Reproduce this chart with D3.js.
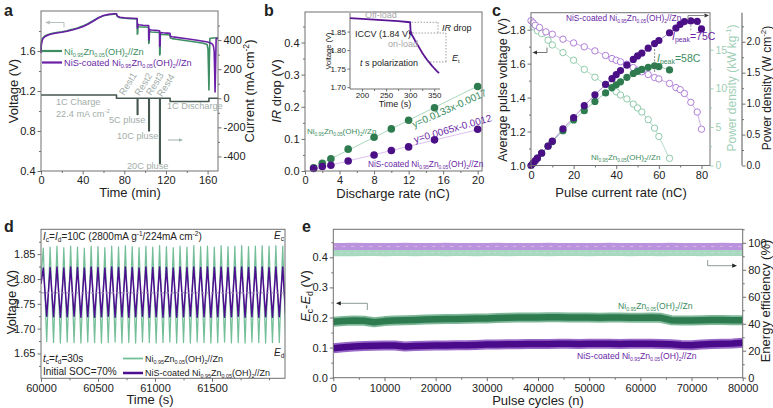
<!DOCTYPE html>
<html><head><meta charset="utf-8">
<script src="https://cdn.jsdelivr.net/npm/d3@7"></script>
<style>body{margin:0;background:#fff}svg{display:block}text{font-family:"Liberation Sans",Arial,Helvetica,sans-serif}</style>
</head><body><svg id="c" width="773" height="408"></svg>
<script>
// ---------------- DATA ----------------
// Panel a: voltage profiles [time (min), V] and current [time, mA cm^-2]
const aGreen = [[0,1.6],[0.3,1.68],[1,1.715],[2,1.735],[4,1.752],[7,1.765],[10,1.775],[15,1.785],[20,1.793],[25,1.803],[30,1.816],[35,1.831],[40,1.849],[45,1.874],[50,1.903],[55,1.933],[60,1.953],[65,1.963],[70,1.968],[72.5,1.969],[73,1.95],[74,1.94],[76,1.933],[80,1.928],[86,1.924],[92.4,1.921],[92.5,1.768],[92.9,1.775],[93.1,1.848],[94,1.843],[98,1.84],[103.4,1.837],[103.5,1.675],[103.9,1.685],[104.1,1.795],[106,1.79],[110,1.787],[113.9,1.785],[114,1.56],[114.4,1.575],[114.6,1.768],[117,1.765],[121,1.762],[123.9,1.76],[124.2,1.73],[126,1.724],[130,1.717],[140,1.703],[150,1.688],[156,1.677],[159.5,1.665],[160.4,1.62],[160.9,1.4],[161.3,1.21],[161.7,1.5],[162.2,1.725],[165,1.73],[170,1.732]];
const aPurple = [[0,1.58],[0.3,1.66],[1,1.70],[2,1.725],[4,1.745],[7,1.76],[10,1.77],[15,1.78],[20,1.787],[25,1.797],[30,1.81],[35,1.825],[40,1.843],[45,1.868],[50,1.898],[55,1.93],[60,1.955],[65,1.966],[70,1.972],[72.5,1.973],[73,1.955],[74,1.945],[76,1.937],[80,1.932],[86,1.928],[92.4,1.925],[92.5,1.83],[92.9,1.835],[93.1,1.868],[94,1.862],[98,1.858],[103.4,1.855],[103.5,1.71],[103.9,1.72],[104.1,1.815],[106,1.81],[110,1.806],[113.9,1.803],[114,1.645],[114.4,1.655],[114.6,1.785],[117,1.782],[121,1.779],[123.9,1.777],[124.2,1.748],[126,1.742],[130,1.736],[140,1.722],[150,1.707],[160,1.69],[164,1.675],[165.5,1.655],[166.3,1.6],[166.8,1.4],[167.2,1.19],[167.7,1.45],[168.2,1.72],[170,1.73]];
const aCurrent = [[0,22.4],[72.5,22.4],[72.5,0],[92.5,0],[92.5,-112],[93,-112],[93,0],[103.5,0],[103.5,-224],[104,-224],[104,0],[114,0],[114,-448],[114.5,-448],[114.5,0],[124,0],[124,-22.4],[161.3,-22.4],[161.3,0],[170,0]];
const aTimeTicks = [0,40,80,120,160];
const aVoltTicks = [0.4,0.8,1.2,1.6];
const aCurTicks = [-400,-200,0,200,400];

// Panel b: IR drop vs discharge rate
const bRates = [1,2,3,5,8,10,12,15,20];
const bGreen = [0.010,0.024,0.038,0.068,0.105,0.131,0.158,0.197,0.263];
const bPurple = [0.008,0.014,0.018,0.031,0.050,0.064,0.075,0.097,0.130];
const bGreenFit = [0.0133,-0.0017];
const bPurpleFit = [0.0065,-0.0012];
const bXTicks = [0,4,8,12,16,20];
const bYTicks = [0,0.1,0.2,0.3,0.4];
// inset: [time s, V]
const bInset = [[175,1.886],[200,1.884],[225,1.882],[250,1.880],[275,1.878],[300,1.875],[300.5,1.86],[301,1.846],[305,1.838],[310,1.826],[315,1.815],[320,1.804],[325,1.793],[330,1.783],[335,1.774],[340,1.766],[345,1.758],[350,1.751],[355,1.744],[360,1.738]];
const bInsetXTicks = [200,250,300,350];
const bInsetYTicks = [1.70,1.75,1.80,1.85];

// Panel c: pulse rate tests
const cRatePurpleV = [0,1,2,4,7,10,15,20,25,30,35,38,40,42,45,48,50,52,55,58,60,65,68,70,72,75,78,80];
const cPurpleV = [1.853,1.84,1.826,1.813,1.787,1.773,1.744,1.722,1.699,1.675,1.648,1.63,1.62,1.611,1.597,1.577,1.561,1.552,1.536,1.518,1.51,1.483,1.459,1.447,1.424,1.372,1.315,1.214];
const cRateGreenV = [1,3,5,8,10,15,20,25,30,35,38,40,42,45,48,50,52,55,58,60,65];
const cGreenV = [1.817,1.793,1.777,1.738,1.71,1.665,1.62,1.566,1.52,1.477,1.455,1.434,1.415,1.392,1.362,1.339,1.315,1.27,1.22,1.171,1.042];
const cRatePurpleP = [0,1,2,3,5,8,10,15,20,25,30,35,38,40,42,45,48,50,52,55,58,60,65,68,70,72,75,78,80];
const cPurpleP = [0,0.3,0.62,0.95,1.6,2.5,3.15,4.75,6.2,7.75,9.16,10.5,11.25,11.78,12.3,13.0,13.75,14.2,14.55,15.2,15.8,16.2,17.2,17.8,18.3,18.65,18.74,18.68,17.7];
const cRateGreenP = [1,3,5,8,10,15,20,25,30,35,38,40,42,45,48,50,52,55,58,60,65];
const cGreenP = [0.3,0.95,1.6,2.5,3.1,4.5,5.9,7.1,8.3,9.4,10.1,10.46,10.84,11.42,11.92,12.2,12.45,12.72,12.92,12.82,12.38];
const cXTicks = [0,20,40,60,80];
const cVTicks = [1.0,1.2,1.4,1.6,1.8];
const cKWTicks = [0,5,10,15];
const cWTicks = [0,0.5,1.0,1.5,2.0];

// Panel d: pulse cycling voltage (turning points)
const dTimes = [60000,60020,60050,60080,60110,60140,60170,60200,60230,60260,60290,60320,60350,60380,60410,60440,60470,60500,60530,60560,60590,60620,60650,60680,60710,60740,60770,60800,60830,60860,60890,60920,60950,60980,61010,61040,61070,61100,61130,61160,61190,61220,61250,61280,61310,61340,61370,61400,61430,61460,61490,61520,61550,61580,61610,61640,61670,61700,61730,61760,61790,61820,61850,61880,61910,61940,61970,62000,62030,62060,62090,62120,62145];
const dGreenPeaks = [1.862,1.864,1.866,1.863,1.866,1.864,1.862,1.866,1.865,1.863,1.866,1.864,1.867,1.865,1.863,1.866,1.864,1.867,1.865,1.863,1.866,1.864,1.867,1.865,1.866,1.864,1.867,1.865,1.866,1.867,1.865,1.866,1.867,1.866,1.867,1.866];
const dGreenTroughs = [1.674,1.672,1.671,1.673,1.672,1.671,1.673,1.672,1.671,1.672,1.673,1.671,1.672,1.671,1.673,1.672,1.671,1.672,1.673,1.671,1.672,1.671,1.673,1.672,1.671,1.672,1.673,1.671,1.672,1.671,1.673,1.672,1.671,1.672,1.672];
const dPurplePeaks = [1.822,1.823,1.824,1.822,1.824,1.823,1.822,1.824,1.823,1.822,1.824,1.823,1.824,1.823,1.822,1.824,1.823,1.824,1.823,1.822,1.824,1.823,1.824,1.823,1.824,1.823,1.824,1.823,1.824,1.824,1.823,1.824,1.824,1.823,1.824,1.824];
const dPurpleTroughs = [1.725,1.724,1.723,1.724,1.725,1.723,1.724,1.723,1.724,1.725,1.723,1.724,1.723,1.724,1.725,1.723,1.724,1.723,1.724,1.723,1.724,1.725,1.723,1.724,1.723,1.724,1.723,1.724,1.725,1.723,1.724,1.723,1.724,1.723,1.724];
const dStartEnd = {green:[1.80,1.69], purple:[1.79,1.73]};
const dRef = 1.772;
const dXTicks = [60000,60500,61000,61500];
const dYTicks = [1.65,1.70,1.75,1.80,1.85];

// Panel e: long-term pulse cycling
const eCycles = [0,2000,4000,6000,8000,10000,12000,14000,16000,18000,20000,22000,24000,26000,28000,30000,32000,34000,36000,38000,40000,42000,44000,46000,48000,50000,52000,54000,56000,58000,60000,62000,64000,66000,68000,70000,72000,74000,76000,78000,80000];
const eGreenDE = [0.186,0.188,0.190,0.189,0.184,0.188,0.190,0.191,0.192,0.193,0.194,0.195,0.195,0.196,0.197,0.197,0.198,0.199,0.200,0.200,0.200,0.201,0.201,0.200,0.200,0.200,0.199,0.200,0.200,0.199,0.199,0.200,0.199,0.191,0.190,0.190,0.191,0.192,0.192,0.191,0.191];
const ePurpleDE = [0.098,0.101,0.104,0.105,0.106,0.107,0.107,0.104,0.105,0.106,0.107,0.107,0.108,0.108,0.109,0.110,0.110,0.111,0.111,0.112,0.112,0.112,0.113,0.113,0.112,0.113,0.113,0.113,0.112,0.113,0.113,0.113,0.112,0.111,0.109,0.108,0.110,0.112,0.113,0.114,0.116];
const eGreenEE = [92.4,92.6,92.5,92.7,92.6,92.5,92.7,92.6,92.5,92.6,92.7,92.5,92.6,92.6,92.5,92.7,92.6,92.5,92.6,92.7,92.6,92.5,92.6,92.7,92.6,92.5,92.6,92.6,92.7,92.5,92.6,92.6,92.5,92.7,92.6,92.6,92.5,92.6,92.7,92.6,92.6];
const ePurpleEE = [97.3,97.2,97.4,97.2,97.3,97.3,97.2,97.4,97.3,97.2,97.3,97.4,97.2,97.3,97.3,97.2,97.4,97.3,97.3,97.2,97.3,97.4,97.2,97.3,97.3,97.2,97.3,97.4,97.3,97.2,97.3,97.3,97.2,97.4,97.3,97.2,97.3,97.3,97.4,97.2,97.3];
const eXTicks = [0,10000,20000,30000,40000,50000,60000,70000,80000];
const eYTicks = [0,0.1,0.2,0.3,0.4];
const eEETicks = [0,20,40,60,80,100];

// ---------------- HELPERS ----------------
const svg = d3.select('#c');
svg.append('rect').attr('width',773).attr('height',408).attr('fill','#fff');
const FONT = '"Liberation Sans", Arial, Helvetica, sans-serif';
const AX = '#707070';
const COL = {
  gA:'#3e8e63', pA:'#6a1fa6', cur:'#46574f', ann:'#a3aeaa',
  gDark:'#2f7b50', pDark:'#4b0f86', gTxt:'#3c8d60', pTxt:'#6a1fa6', gLine:'#74bf99'
};

function rich(x,y,parts,o={}){
  const fs=o.fs||11;
  const sc=o.sub||0.66;
  const t=svg.append('text').attr('x',x).attr('y',y).attr('font-size',fs)
    .attr('fill',o.fill||'#222').attr('text-anchor',o.anchor||'start').attr('font-family',FONT);
  if(o.weight) t.attr('font-weight',o.weight);
  if(o.rotate!==undefined) t.attr('transform',`rotate(${o.rotate},${x},${y})`);
  let shift=0;
  parts.forEach(p=>{
    const [s,st]=typeof p==='string'?[p,'']:p;
    const ts=t.append('tspan').text(s);
    let target=0;
    if(st.includes('sub')){target=fs*0.22;ts.attr('font-size',fs*sc);}
    if(st.includes('sup')){target=-fs*0.4;ts.attr('font-size',fs*0.66);}
    if(st.startsWith('i')) ts.attr('font-style','italic');
    if(target!==shift){ts.attr('dy',target-shift);shift=target;}
  });
  return t;
}
const formula = pre => [pre+'Ni',['0.95','sub'],'Zn',['0.05','sub'],'(OH)',['2','sub'],'//Zn'];

function drawAxis(orient,scale,pos,ticks,minor,o={}){
  const gen={left:d3.axisLeft,right:d3.axisRight,bottom:d3.axisBottom}[orient];
  const tr=(orient==='bottom')?`translate(0,${pos})`:`translate(${pos},0)`;
  const g=svg.append('g').attr('transform',tr).attr('font-family',FONT);
  g.call(gen(scale).tickValues(ticks).tickSize(o.size||3.5).tickPadding(o.pad||2).tickFormat(o.fmt||(d=>d)));
  g.select('.domain').remove();
  g.selectAll('line').attr('stroke',o.tickColor||AX);
  g.selectAll('text').attr('font-size',o.fs||11).attr('fill',o.color||'#222');
  if(minor&&minor.length){
    const m=svg.append('g').attr('transform',tr);
    m.call(gen(scale).tickValues(minor).tickSize(o.msize||2).tickFormat(''));
    m.select('.domain').remove();
    m.selectAll('line').attr('stroke',o.tickColor||AX);
  }
  return g;
}
function frame(x0,y0,x1,y1){
  svg.append('rect').attr('x',x0).attr('y',y0).attr('width',x1-x0).attr('height',y1-y0).attr('fill','none').attr('stroke',AX).attr('stroke-width',1);
}
function line(x1,y1,x2,y2,col,w,dash){
  const l=svg.append('line').attr('x1',x1).attr('y1',y1).attr('x2',x2).attr('y2',y2).attr('stroke',col).attr('stroke-width',w||1);
  if(dash) l.attr('stroke-dasharray',dash);
  return l;
}
function arrowHead(x,y,dir,col,s){
  s=s||4;
  const pts=dir==='left'?[[x,y],[x+s*1.6,y-s*0.7],[x+s*1.6,y+s*0.7]]:[[x,y],[x-s*1.6,y-s*0.7],[x-s*1.6,y+s*0.7]];
  svg.append('polygon').attr('points',pts.map(p=>p.join(',')).join(' ')).attr('fill',col);
}
function path(data,xs,ys,col,w,o={}){
  const p=svg.append('path').attr('d',d3.line().x(d=>xs(d[0])).y(d=>ys(d[1]))(data))
    .attr('fill','none').attr('stroke',col).attr('stroke-width',w).attr('stroke-linejoin','round').attr('stroke-linecap',o.cap||'butt');
  if(o.dash) p.attr('stroke-dasharray',o.dash);
  return p;
}
const f1=d3.format('.1f'), f2=d3.format('.2f');

// ---------------- PANEL A ----------------
{
  const xA=d3.scaleLinear([0,170],[41,218]);
  const yA=d3.scaleLinear([0.4,2.0],[171,11]);
  const iA=d3.scaleLinear([-500,600],[171,11]);
  path(aCurrent,xA,iA,COL.cur,1.6);
  path(aGreen,xA,yA,COL.gA,1.6);
  path(aPurple,xA,yA,COL.pA,1.6);
  frame(41,11,218,171);
  drawAxis('left',yA,41,aVoltTicks,[0.6,1.0,1.4,1.8],{fmt:f1});
  drawAxis('right',iA,218,aCurTicks,[-300,-100,100,300,500]);
  drawAxis('bottom',xA,171,aTimeTicks,[20,60,100,140]);
  rich(18,91,['Voltage (V)'],{fs:13,anchor:'middle',rotate:-90});
  rich(254,91,['Current (mA cm',['-2','sup'],')'],{fs:13,anchor:'middle',rotate:-90});
  rich(130,197,['Time (min)'],{fs:13,anchor:'middle'});
  rich(4,16,['a'],{fs:16,weight:'bold'});
  // legend
  line(42,51,62,51,COL.gA,2.2);
  rich(64,54.5,formula(''),{fs:9.2,fill:COL.gTxt,sub:0.6});
  line(42,62.5,62,62.5,COL.pA,2.2);
  rich(64,66,formula('NiS-coated '),{fs:9.2,fill:COL.pTxt,sub:0.6});
  // annotations
  const g=COL.ann;
  rich(56,105,['1C Charge'],{fs:9.2,fill:g});
  rich(56,117,['22.4 mA cm',['-2','sup']],{fs:9.2,fill:g});
  rich(109,123,['5C pluse'],{fs:9.2,fill:g});
  rich(117,139,['10C pluse'],{fs:9.2,fill:g});
  rich(127,168.5,['20C pluse'],{fs:9.2,fill:g});
  rich(167,109,['1C Discharge'],{fs:9.2,fill:g});
  [['Rest1',124,96],['Rest2',139.5,96.5],['Rest3',151,96],['Rest4',162,97.5]].forEach(r=>rich(r[1],r[2],[r[0]],{fs:9.5,fill:g,rotate:-58}));
  // arrows
  line(47,22.5,64,22.5,'#b9c1be',1); line(64,22.5,64,27.5,'#b9c1be',1); arrowHead(45,22.5,'left','#b9c1be',3);
  line(168,140,180,140,'#9fb4ab',1); arrowHead(183,140,'right','#9fb4ab',2.5);
}

// ---------------- PANEL B ----------------
{
  const xB=d3.scaleLinear([0,20.5],[305,482]);
  const yB=d3.scaleLinear([0,0.495],[171,12]);
  const fitG=[1,20.3].map(x=>[x,bGreenFit[0]*x+bGreenFit[1]]);
  const fitP=[1,20.3].map(x=>[x,bPurpleFit[0]*x+bPurpleFit[1]]);
  path(fitG,xB,yB,'#a9d9bf',1);
  path(fitP,xB,yB,'#dcc0ef',1);
  svg.append('g').selectAll('circle').data(bRates).join('circle')
    .attr('cx',(d)=>xB(d)).attr('cy',(d,i)=>yB(bGreen[i])).attr('r',3.8).attr('fill',COL.gDark);
  svg.append('g').selectAll('circle').data(bRates).join('circle')
    .attr('cx',(d)=>xB(d)).attr('cy',(d,i)=>yB(bPurple[i])).attr('r',3.8).attr('fill',COL.pDark);
  frame(305,12,482,171);
  drawAxis('left',yB,305,bYTicks,[0.05,0.15,0.25,0.35,0.45],{fmt:f1});
  drawAxis('bottom',xB,171,bXTicks,[2,6,10,14,18]);
  rich(281,91,[['IR','i'],' drop (V)'],{fs:13,anchor:'middle',rotate:-90});
  rich(393,198,['Discharge rate (nC)'],{fs:13,anchor:'middle'});
  rich(264,16,['b'],{fs:16,weight:'bold'});
  rich(307,134,formula(''),{fs:8,fill:COL.gTxt,sub:0.6});
  rich(368,167,formula('NiS-coated '),{fs:8.3,fill:COL.pTxt,sub:0.6});
  rich(414,128,['y=0.0133x-0.0017'],{fs:10,fill:COL.gTxt,rotate:-24});
  rich(415,143,['y=0.0065x-0.0012'],{fs:10,fill:COL.pTxt,rotate:-16});
  // inset
  const xi=d3.scaleLinear([175,362],[350,440]);
  const yi=d3.scaleLinear([1.695,1.9],[89,13]);
  line(350,13,350,89,AX,1); line(350,89,440,89,AX,1);
  drawAxis('left',yi,350,bInsetYTicks,[],{fmt:f2,fs:8,size:2.5,pad:1.5});
  drawAxis('bottom',xi,89,bInsetXTicks,[225,275,325],{fs:8,size:2.5,pad:1});
  path(bInset,xi,yi,'#5a1596',1.8);
  svg.append('circle').attr('cx',xi(301)).attr('cy',yi(1.846)).attr('r',1.8).attr('fill','#5a1596');
  rich(331,51,['Voltage (V)'],{fs:7.5,anchor:'middle',rotate:-90});
  rich(395,107,['Time (s)'],{fs:9,anchor:'middle'});
  rich(365,18,['Off-load'],{fs:9,fill:'#a8a8a8'});
  rich(355,37,['ICCV (1.84 V)'],{fs:9});
  rich(388,47,['on-load'],{fs:9,fill:'#a8a8a8'});
  rich(360,66,[['t','i'],' s polarization'],{fs:9});
  rich(442,31,[['IR','i'],' drop'],{fs:9});
  rich(452,61,[['E','i'],['t','sub']],{fs:9});
  const dc='#888';
  line(xi(303),yi(1.875),438,yi(1.875),dc,0.8,'1.5,1.5');
  line(438,yi(1.875),438,yi(1.846),dc,0.8,'1.5,1.5');
  line(xi(305),yi(1.846),446,yi(1.846),dc,0.8,'1.5,1.5');
  line(446,yi(1.846),446,yi(1.768),dc,0.8,'1.5,1.5');
  line(xi(335),yi(1.768),448,yi(1.768),dc,0.8,'1.5,1.5');
}

// ---------------- PANEL C ----------------
{
  const xC=d3.scaleLinear([0,84],[531,710]);
  const yV=d3.scaleLinear([1.0,1.9],[165.5,12.7]);
  const yP=d3.scaleLinear([0,19.8],[165.5,12.7]);
  const yW=d3.scaleLinear([0,2.47],[165.5,12.7]);
  const gV=cRateGreenV.map((x,i)=>[x,cGreenV[i]]);
  const pV=cRatePurpleV.map((x,i)=>[x,cPurpleV[i]]);
  const gP=cRateGreenP.map((x,i)=>[x,cGreenP[i]]);
  const pP=cRatePurpleP.map((x,i)=>[x,cPurpleP[i]]);
  path(gV,xC,yV,'#a8d8be',0.9);
  path(pV,xC,yV,'#c8a6e6',0.9);
  path(gP,xC,yP,'#8fc6a8',0.9);
  path(pP,xC,yP,'#a27ac8',0.9);
  svg.append('g').selectAll('circle').data(gV).join('circle').attr('cx',d=>xC(d[0])).attr('cy',d=>yV(d[1])).attr('r',3.2).attr('fill','#fff').attr('stroke','#8fcaa9').attr('stroke-width',1);
  svg.append('g').selectAll('circle').data(pV).join('circle').attr('cx',d=>xC(d[0])).attr('cy',d=>yV(d[1])).attr('r',3.2).attr('fill','#fff').attr('stroke','#b07fd9').attr('stroke-width',1);
  svg.append('g').selectAll('circle').data(gP).join('circle').attr('cx',d=>xC(d[0])).attr('cy',d=>yP(d[1])).attr('r',3.6).attr('fill',COL.gDark);
  svg.append('g').selectAll('circle').data(pP).join('circle').attr('cx',d=>xC(d[0])).attr('cy',d=>yP(d[1])).attr('r',3.6).attr('fill',COL.pDark);
  frame(531,12.7,710,165.5);
  drawAxis('left',yV,531,cVTicks,[1.1,1.3,1.5,1.7],{fmt:f1});
  drawAxis('bottom',xC,165.5,cXTicks,[10,30,50,70]);
  drawAxis('right',yP,710,cKWTicks,[2.5,7.5,12.5,17.5],{color:'#9fcfb6',tickColor:'#9fcfb6',fs:10.5});
  line(742,12.7,742,165.5,'#555',1);
  drawAxis('right',yW,742,cWTicks,[0.25,0.75,1.25,1.75,2.25],{fmt:f1,fs:10,pad:1});
  rich(507,90,['Average pulse voltage (V)'],{fs:12.5,anchor:'middle',rotate:-90});
  rich(736,88,['Power density (kW kg',['-1','sup'],')'],{fs:12,anchor:'middle',rotate:-90,fill:'#9fcfb6'});
  rich(771,88,['Power density (W cm',['-2','sup'],')'],{fs:12,anchor:'middle',rotate:-90});
  rich(621,197,['Pulse current rate (nC)'],{fs:13,anchor:'middle'});
  rich(492,16,['c'],{fs:16,weight:'bold'});
  rich(566,21,formula('NiS-coated '),{fs:8.3,fill:COL.pTxt,sub:0.6});
  rich(591,160,formula(''),{fs:8,fill:COL.gTxt,sub:0.6});
  rich(672,40,[['I','i'],['peak','sub'],'=75C'],{fs:10.5,fill:COL.pTxt});
  rich(657,62,[['I','i'],['peak','sub'],'=58C'],{fs:10.5,fill:COL.gTxt});
  line(xC(75),yP(18.74)+4,xC(75),31,'#888',0.8,'2,1.5');
  line(xC(58),49,xC(58),73,'#666',0.8,'2,1.5');
  // arrows
  line(536,52.5,547,52.5,'#777',1); line(547,52.5,547,47.5,'#777',1); arrowHead(532.5,52.5,'left','#333',2.8);
  line(688,20,688,15.5,'#888',1); line(688,15.5,704,15.5,'#888',1); arrowHead(709,15.5,'right','#333',2.8);
}

// ---------------- PANEL D ----------------
{
  const xD=d3.scaleLinear([60000,62140],[41,285]);
  const yD=d3.scaleLinear([1.6,1.9],[378.3,229.3]);
  function build(peaks,troughs,se){
    const v=[se[0]];
    for(let i=0;i<peaks.length;i++){v.push(peaks[i]); if(i<troughs.length) v.push(troughs[i]);}
    v.push(se[1]);
    return dTimes.slice(0,v.length).map((t,i)=>[t,v[i]]);
  }
  svg.append('defs').append('clipPath').attr('id','clipd').append('rect').attr('x',41).attr('y',229.3).attr('width',244).attr('height',149);
  const gd=build(dGreenPeaks,dGreenTroughs,dStartEnd.green);
  const pd=build(dPurplePeaks,dPurpleTroughs,dStartEnd.purple);
  path(gd,xD,yD,COL.gLine,1.25).attr('clip-path','url(#clipd)');
  path(pd,xD,yD,'#4d0e8f',1.5).attr('clip-path','url(#clipd)');
  line(41,yD(dRef),285,yD(dRef),'#9a8fb3',1,'3,2');
  frame(41,229.3,285,378.3);
  drawAxis('left',yD,41,dYTicks,[1.625,1.675,1.725,1.775,1.825,1.875],{fmt:f2});
  drawAxis('bottom',xD,378.3,dXTicks,[60250,60750,61250,61750,62000]);
  rich(16,302,['Voltage (V)'],{fs:13,anchor:'middle',rotate:-90});
  rich(150,404,['Time (s)'],{fs:13,anchor:'middle'});
  rich(4,232,['d'],{fs:16,weight:'bold'});
  rich(43,240,[['I','i'],['c','sub'],'=',['I','i'],['d','sub'],'=10C (2800mA g',['-1','sup'],'/224mA cm',['-2','sup'],')'],{fs:10});
  rich(43,362,[['t','i'],['c','sub'],'=',['t','i'],['d','sub'],'=30s'],{fs:10});
  rich(43,375,['Initial SOC=70%'],{fs:10});
  rich(274,239,[['E','i'],['c','sub']],{fs:10});
  rich(274,356,[['E','i'],['d','sub']],{fs:10});
  line(123,358.5,143,358.5,COL.gLine,1.8);
  rich(145,362,formula(''),{fs:9,sub:0.6});
  line(123,373,143,373,'#4d0e8f',2.5);
  rich(145,376,formula('NiS-coated '),{fs:9,sub:0.6});
}

// ---------------- PANEL E ----------------
{
  const xE=d3.scaleLinear([0,80000],[333.3,742.7]);
  const yE=d3.scaleLinear([0,0.493],[377.7,229.3]);
  const yEE=d3.scaleLinear([0,110],[377.7,229.3]);
  const gEE=eCycles.map((c,i)=>[c,eGreenEE[i]]);
  const pEE=eCycles.map((c,i)=>[c,ePurpleEE[i]]);
  const gDE=eCycles.map((c,i)=>[c,eGreenDE[i]]);
  const pDE=eCycles.map((c,i)=>[c,ePurpleDE[i]]);
  path(gEE,xE,yEE,'#a9d8c0',6.5);
  path(gEE,xE,yEE,'#c2e4d2',1,{dash:'2,5'});
  path(pEE,xE,yEE,'#bb92dd',7);
  path(pEE,xE,yEE,'#d6bdea',1,{dash:'3,6'});
  path(gDE,xE,yE,'#7fb899',10);
  path(gDE,xE,yE,'#2f7b50',6.5);
  path(pDE,xE,yE,'#9a6ac8',10);
  path(pDE,xE,yE,'#4a0b8a',6.5);
  frame(333.3,229.3,742.7,377.7);
  drawAxis('left',yE,333.3,eYTicks,[0.05,0.15,0.25,0.35,0.45],{fmt:f1});
  drawAxis('right',yEE,742.7,eEETicks,[10,30,50,70,90,110]);
  drawAxis('bottom',xE,377.7,eXTicks,[5000,15000,25000,35000,45000,55000,65000,75000],{pad:3});
  rich(310,296,[['E','i'],['c','sub'],'-',['E','i'],['d','sub'],' (V)'],{fs:13,anchor:'middle',rotate:-90});
  rich(770,301,['Energy efficiency (%)'],{fs:13,anchor:'middle',rotate:-90});
  rich(538,405,['Pulse cycles (n)'],{fs:13,anchor:'middle'});
  rich(302,232,['e'],{fs:16,weight:'bold'});
  rich(618,309,formula(''),{fs:8.6,fill:COL.gTxt,sub:0.6});
  rich(577,359,formula('NiS-coated '),{fs:8.6,fill:COL.pTxt,sub:0.6});
  line(340,303.3,367.3,303.3,'#8a9a94',1); line(367.3,303.3,367.3,310,'#8a9a94',1); arrowHead(336,303.3,'left','#222',3);
  line(707.7,260,707.7,265.7,'#8a9a94',1); line(707.7,265.7,732,265.7,'#8a9a94',1); arrowHead(737,265.7,'right','#222',3);
}
</script></body></html>
